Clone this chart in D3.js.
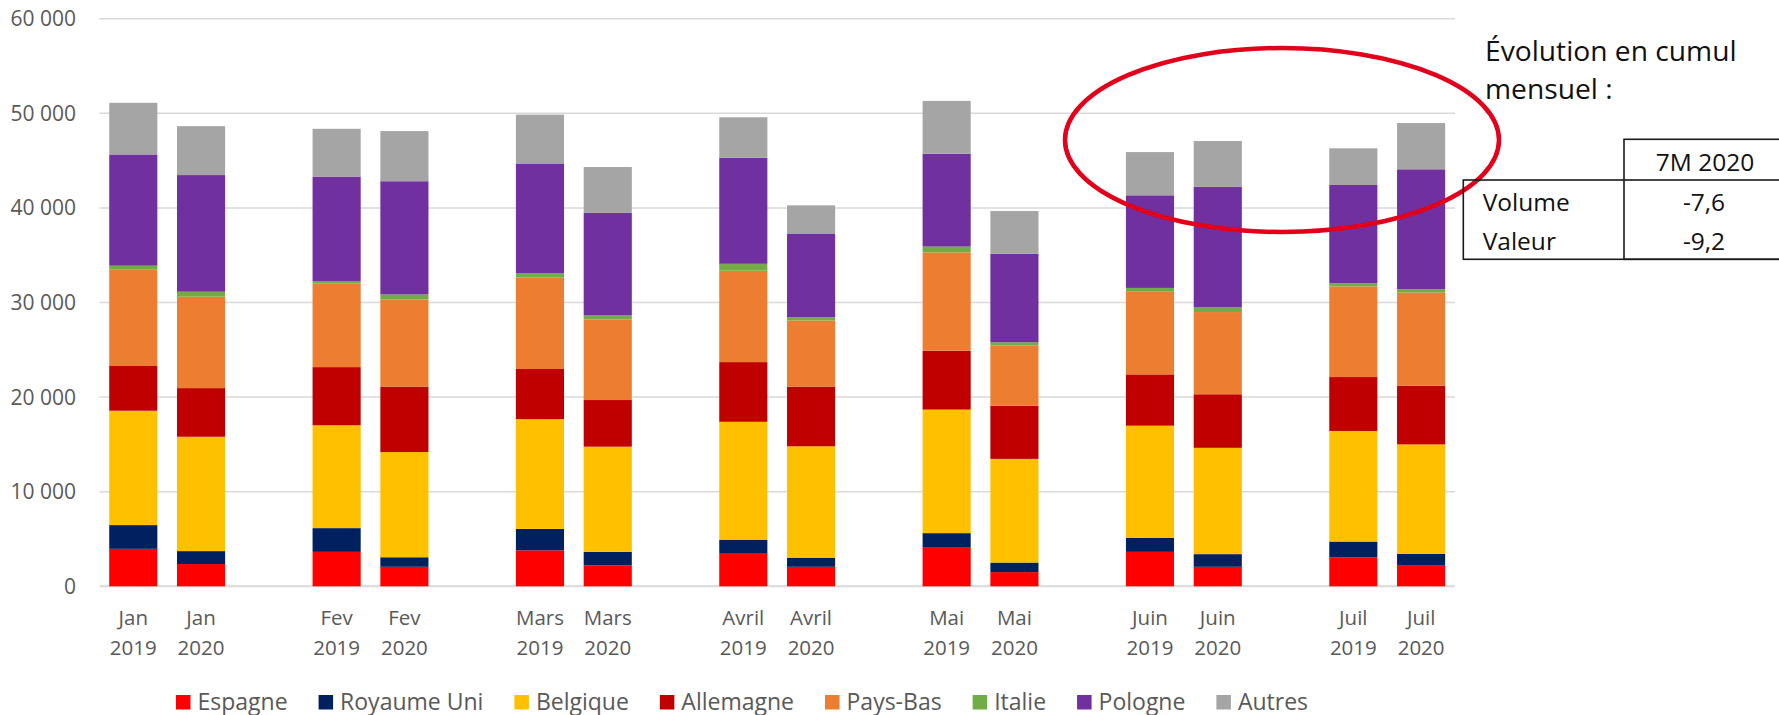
<!DOCTYPE html>
<html>
<head>
<meta charset="utf-8">
<script src="https://cdn.jsdelivr.net/npm/d3@7"></script>
<style>
  body { margin:0; background:#fff; }
  svg text { font-family: "Open Sans", Lato, sans-serif; }
</style>
</head>
<body>
<div id="chart"></div>
<script>
var months = ["Jan","Fev","Mars","Avril","Mai","Juin","Juil"];
var years = ["2019","2020"];
var seriesNames = ["Espagne","Royaume Uni","Belgique","Allemagne","Pays-Bas","Italie","Pologne","Autres"];
var seriesColors = ["#ff0000","#002060","#ffc000","#c00000","#ed7d31","#70ad47","#7030a0","#a5a5a5"];

// order: Jan19, Jan20, Fev19, Fev20, ... Juil19, Juil20
var espagne   = [3960,2350,3640,2060,3800,2220,3520,2060,4080,1500,3640,2060,3070,2180];
var royaumeUni= [2510,1370,2510,1010,2270,1420,1410, 970,1540,1010,1500,1340,1660,1260];
var belgique  = [12090,12090,10870,11120,11600,11120,12460,11770,13060,10960,11840,11240,11690,11560];
var allemagne = [4730,5140,6150,6920,5300,4930,6310,6310,6230,5620,5420,5660,5700,6190];
var paysBas   = [10230,9660,8820,9220,9660,8530,9660,6990,10390,6380,8740,8690,9580,9860];
var italie    = [370,530,280,520,450,410,730,330,610,330,400,490,330,370];
var pologne   = [11760,12330,11040,11970,11560,10840,11200,8810,9820,9340,9790,12740,10390,12660];
var autres    = [5460,5170,5050,5300,5220,4850,4290,3030,5580,4530,4570,4850,3880,4890];

var yTicks = [0,10000,20000,30000,40000,50000,60000];

var tableTitle = ["Évolution en cumul","mensuel :"];
var tableHeader = "7M 2020";
var tableRows = ["Volume","Valeur"];
var tableValues = ["-7,6","-9,2"];

var allSeries = [espagne,royaumeUni,belgique,allemagne,paysBas,italie,pologne,autres];

var W = 1779, H = 715;
var svg = d3.select("#chart").append("svg")
            .attr("width",W)
            .attr("height",H);

// slots : mois x annee, plus un vide entre chaque mois
var slots = [], rows = [];
months.forEach(function(m,i){
  years.forEach(function(yr,j){
    var key = m+" "+yr;
    slots.push(key);
    var row = {key:key, month:m, year:yr};
    seriesNames.forEach(function(s,k){ row[s] = allSeries[k][i*2+j]; });
    rows.push(row);
  });
  if(i<months.length-1) slots.push("gap"+i);
});

var x = d3.scaleBand()
          .domain(slots)
          .range([99.4,1455])
          .paddingInner(0.29)
          .paddingOuter(0.145);

var y = d3.scaleLinear()
          .domain([0,60000])
          .range([586.3,18.7]);

// grille
svg.append("g").selectAll("line")
   .data(yTicks)
   .enter().append("line")
   .attr("x1",99.4)
   .attr("x2",1455)
   .attr("y1",function(d){ return y(d); })
   .attr("y2",function(d){ return y(d); })
   .style("stroke","#d9d9d9")
   .style("stroke-width",function(d){ return d==0 ? 2 : 1.5; });

svg.append("g").selectAll("text")
   .data(yTicks)
   .enter().append("text")
   .attr("x",76)
   .attr("y",function(d){ return y(d); })
   .attr("dy","0.36em")
   .attr("text-anchor","end")
   .style("font-size","21px")
   .style("fill","#595959")
   .text(function(d){ return d3.format(",")(d).replace(/,/g," "); });

var stack = d3.stack().keys(seriesNames)(rows);

var layers = svg.append("g").selectAll("g")
   .data(stack)
   .enter().append("g")
   .style("fill",function(d,i){ return seriesColors[i]; });

layers.selectAll("rect")
   .data(function(d){ return d; })
   .enter().append("rect")
   .attr("x",function(d){ return x(d.data.key); })
   .attr("width",x.bandwidth())
   .attr("y",function(d){ return y(d[1]); })
   .attr("height",function(d){ return y(d[0]) - y(d[1]); });

// labels axe x
var xl = svg.append("g").selectAll("text")
   .data(rows)
   .enter().append("text")
   .attr("text-anchor","middle")
   .style("font-size","20.5px")
   .style("fill","#595959");
xl.append("tspan")
  .attr("x",function(d){ return x(d.key) + x.bandwidth()/2; })
  .attr("y",625)
  .text(function(d){ return d.month; });
xl.append("tspan")
  .attr("x",function(d){ return x(d.key) + x.bandwidth()/2; })
  .attr("y",655)
  .text(function(d){ return d.year; });

// legende
var legend = svg.append("g");
var lx = 0;
seriesNames.forEach(function(s,i){
  var it = legend.append("g").attr("transform","translate("+lx+",0)");
  it.append("rect")
    .attr("x",0).attr("y",695)
    .attr("width",14.5).attr("height",14.5)
    .style("fill",seriesColors[i]);
  var t = it.append("text")
    .attr("x",21.5).attr("y",709.5)
    .style("font-size","23px")
    .style("fill","#595959")
    .text(s);
  lx += 21.5 + t.node().getComputedTextLength() + 31;
});
lx -= 31;
legend.attr("transform","translate("+(742 - lx/2)+",0)");

// ellipse rouge
svg.append("ellipse")
   .attr("cx",1282)
   .attr("cy",140)
   .attr("rx",217)
   .attr("ry",92)
   .style("fill","none")
   .style("stroke","#e2001a")
   .style("stroke-width",4.5);

// tableau
svg.append("g").selectAll("text")
   .data(tableTitle)
   .enter().append("text")
   .attr("x",1485)
   .attr("y",function(d,i){ return 60.5 + i*38.5; })
   .style("font-size","28.2px")
   .style("fill","#111")
   .text(function(d){ return d; });

var tb = svg.append("g").style("stroke","#1a1a1a").style("stroke-width",1.6).style("fill","none");
tb.append("rect").attr("x",1624).attr("y",139.3).attr("width",200).attr("height",120);
tb.append("rect").attr("x",1463.3).attr("y",180).attr("width",400).attr("height",79.3);

svg.append("text")
   .attr("x",1705).attr("y",170.7)
   .attr("text-anchor","middle")
   .style("font-size","24.5px")
   .style("fill","#111")
   .text(tableHeader);

svg.append("g").selectAll("text")
   .data(tableRows)
   .enter().append("text")
   .attr("x",1482.7)
   .attr("y",function(d,i){ return 210.7 + i*39.3; })
   .style("font-size","24.5px")
   .style("fill","#111")
   .text(function(d){ return d; });

svg.append("g").selectAll("text")
   .data(tableValues)
   .enter().append("text")
   .attr("x",1704)
   .attr("y",function(d,i){ return 210.7 + i*39.3; })
   .attr("text-anchor","middle")
   .style("font-size","24.5px")
   .style("fill","#111")
   .text(function(d){ return d; });
</script>
</body>
</html>
